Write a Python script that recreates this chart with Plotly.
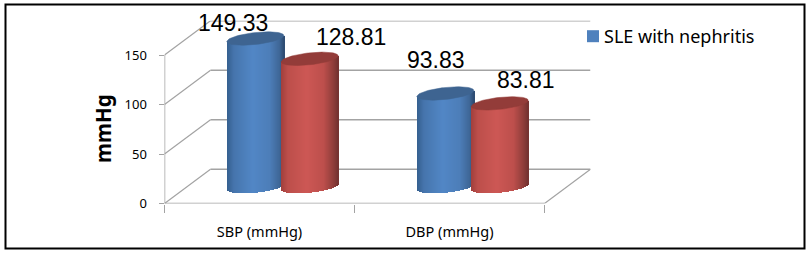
import numpy as np
import plotly.graph_objects as go

# ---- data ----
categories = ["SBP (mmHg)", "DBP (mmHg)"]
series_a = [149.33, 93.83]   # blue
series_b = [128.81, 83.81]   # red
legend_name = "SLE with nephritis"
y_ticks = [0, 50, 100, 150]
y_title = "mmHg"

# ---- geometry (pixels) ----
W, H = 810, 254
LEFT, BOTTOM = 164.5, 203.5
PX_X, PX_Y = 190.0, 0.99
DEPTH_X_PX, DEPTH_Y_PX = 46.0, 34.3
DX = DEPTH_X_PX / PX_X
DY = DEPTH_Y_PX / PX_Y
RIGHT = LEFT + 2 * PX_X + DEPTH_X_PX
TOP = BOTTOM - 150 * PX_Y - DEPTH_Y_PX
X_RANGE = [-0.5, 1.5 + DX]
Y_RANGE = [0, (BOTTOM - TOP) / PX_Y]

GROUP_OFFSET = 0.143
RADIUS_PX, MINOR_PX, TILT_PX = 28.5, 6.0, 3.0
GRID = "#a3a3a3"
BLUE, RED = "#4f81bd", "#c0504d"
BLUE_STOPS = [(0, "#35608f"), (.12, "#4675ad"), (.45, "#5287c6"), (.75, "#4d7eb9"), (.92, "#3f6797"), (1, "#2c4a70")]
RED_STOPS = [(0, "#a13f3c"), (.12, "#bd4f4b"), (.45, "#cd5855"), (.75, "#bd4f4c"), (.92, "#8f3d3a"), (1, "#743230")]
BLUE_CAP, RED_CAP = "#3e6491", "#933c39"


def shade(stops, t):
    xs = [s[0] for s in stops]
    cols = [[int(s[1][i:i + 2], 16) for i in (1, 3, 5)] for s in stops]
    return "rgb(%d,%d,%d)" % tuple(int(np.interp(t, xs, [c[k] for c in cols])) for k in range(3))


def cylinder(cx, value, stops, cap):
    """Shaded cylinder standing mid-way in the floor depth."""
    xc = cx + DX / 2
    n = 57
    edges = np.linspace(-1, 1, n + 1)
    u = (edges[:-1] + edges[1:]) / 2
    front = MINOR_PX * np.sqrt(1 - u ** 2)
    lean = TILT_PX * u
    base = DY / 2 - (front - lean) / PX_Y
    top = value + DY / 2 + lean / PX_Y
    xs = xc + u * RADIUS_PX / PX_X
    body = go.Bar(
        x=xs, y=top - base, base=base,
        width=2 * RADIUS_PX / PX_X / n * 1.15,
        marker=dict(color=[shade(stops, (v + 1) / 2) for v in u], line_width=0),
        showlegend=False, hoverinfo="skip",
    )
    t = np.linspace(0, 2 * np.pi, 90)
    cap_trace = go.Scatter(
        x=xc + np.cos(t) * RADIUS_PX / PX_X,
        y=value + DY / 2 + (MINOR_PX * np.sin(t) + TILT_PX * np.cos(t)) / PX_Y,
        mode="lines", fill="toself", fillcolor=cap, line=dict(color=cap, width=0.5),
        showlegend=False, hoverinfo="skip",
    )
    return body, cap_trace


fig = go.Figure()

# plain series bar, carries the legend entry; shading is laid over it
fig.add_trace(go.Bar(
    x=[i - GROUP_OFFSET + DX / 2 for i in range(len(categories))],
    y=series_a, base=DY / 2, width=RADIUS_PX / PX_X,
    marker=dict(color=BLUE, line_width=0), name=legend_name, showlegend=True,
))

caps = []
for i in range(len(categories)):
    for off, vals, stops, cap in ((-GROUP_OFFSET, series_a, BLUE_STOPS, BLUE_CAP),
                                  (GROUP_OFFSET, series_b, RED_STOPS, RED_CAP)):
        b, c = cylinder(i + off, vals[i], stops, cap)
        fig.add_trace(b)
        caps.append(c)
for c in caps:
    fig.add_trace(c)

# walls and floor
shapes = []


def seg(x0, y0, x1, y1, w=1.5):
    shapes.append(dict(type="line", xref="x", yref="y", x0=x0, y0=y0, x1=x1, y1=y1,
                       line=dict(color=GRID, width=w), layer="below"))


for v in y_ticks:
    seg(-0.5, v, -0.5 + DX, v + DY, 1.2)
    seg(-0.5 + DX, v + DY, 1.5 + DX, v + DY, 1.5)
seg(-0.5, 0, -0.5, y_ticks[-1])
seg(-0.5, 0, 1.5, 0)
seg(1.5, 0, 1.5 + DX, DY, 1.2)

# frame
shapes.append(dict(type="rect", xref="paper", yref="paper",
                   x0=5.5 / W, x1=804.5 / W, y0=1 - 248.5 / H, y1=1 - 4.5 / H,
                   line=dict(color="black", width=2), fillcolor="rgba(0,0,0,0)", layer="above"))

# data labels: (category, series) -> x shift, y shift in px
label_font = dict(family="Liberation Sans", size=23, color="black")
ann = []
label_off = {(0, 0): (-22, 16), (0, 1): (41, 22), (1, 0): (-9.5, 33), (1, 1): (26, 23)}
for (i, s), (dx_px, dy_px) in label_off.items():
    vals = series_a if s == 0 else series_b
    off = -GROUP_OFFSET if s == 0 else GROUP_OFFSET
    ann.append(dict(x=i + off + DX / 2, y=vals[i] + DY / 2, xref="x", yref="y",
                    text=f"{vals[i]:.2f}", showarrow=False, font=label_font,
                    xshift=dx_px, yshift=dy_px, xanchor="center", yanchor="middle"))
ann.append(dict(x=103 / W, y=1 - 129 / H, xref="paper", yref="paper", text=f"<b>{y_title}</b>",
                textangle=-90, showarrow=False, xanchor="center", yanchor="middle",
                font=dict(family="Noto Sans", size=20.5, color="black")))

fig.update_layout(
    width=W, height=H, margin=dict(l=0, r=0, t=0, b=0),
    paper_bgcolor="white", plot_bgcolor="white", barmode="overlay", bargap=0,
    font=dict(family="Noto Sans", size=12, color="black"),
    shapes=shapes, annotations=ann,
    xaxis=dict(domain=[LEFT / W, RIGHT / W], range=X_RANGE, showgrid=False, zeroline=False, automargin=False,
               showline=False, tickmode="array", tickvals=[0, 1], ticktext=categories,
               ticks="", ticklabelstandoff=18, tickfont=dict(size=14.5),
               minor=dict(tickmode="array", tickvals=[-0.5, 0.5, 1.5], ticks="outside",
                          ticklen=8, tickwidth=1.2, tickcolor=GRID, showgrid=False)),
    yaxis=dict(domain=[1 - BOTTOM / H, 1 - TOP / H], range=Y_RANGE, showgrid=False, zeroline=False, automargin=False,
               showline=False, tickmode="array", tickvals=y_ticks, ticks="outside", ticklen=5,
               tickwidth=1.2, tickcolor=GRID, ticklabelstandoff=9, tickfont=dict(size=13)),
    legend=dict(x=564 / W, y=1 - 18 / H, xanchor="left", yanchor="top", bgcolor="rgba(0,0,0,0)",
                font=dict(family="Noto Sans", size=18, color="black"), itemwidth=30),
)

fig.write_html("out.html", config={"displayModeBar": False},
               post_script="document.body.style.margin='0';"
                           "document.querySelectorAll('.legendsymbols').forEach(function(e){e.setAttribute('transform','translate(9,0)');});")
